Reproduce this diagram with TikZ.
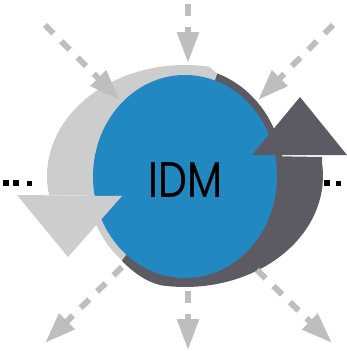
\documentclass[tikz,border=0pt]{standalone}
\usepackage{fontspec}
\usepackage{graphicx}
\newfontfamily\idmfont{Poppins}
\usetikzlibrary{arrows.meta}
\definecolor{idmblue}{HTML}{2188C1}
\definecolor{cyclelight}{HTML}{CDCDCD}
\definecolor{cycledark}{HTML}{5C5B64}
\definecolor{flowgrey}{HTML}{BEBEBE}
\begin{document}
\begin{tikzpicture}[x=1pt,y=-1pt,
  flow/.style={line width=6pt, draw=flowgrey, dash pattern=on 12pt off 11pt,
    -{Triangle[length=31pt,width=21pt,fill=flowgrey]}},
  dotmark/.style={fill=black}]
\useasboundingbox (0,0) rectangle (347,351);
\coordinate (c) at (185,176.5);
% thin ring hugging the core: light half and dark half
\fill[cyclelight] (c) -- ++(-71.1:99 and 109)
  arc[start angle=-71.1, end angle=-230.5, x radius=99, y radius=109] -- cycle;
\fill[cycledark] (c) -- ++(129.5:99 and 109)
  arc[start angle=129.5, end angle=-71.1, x radius=99, y radius=109] -- cycle;
% light crescent sweeping over the top and down the left side
\fill[cyclelight] (185,176) -- (217,73.3) -- (209,66.7)
  arc[start angle=-80, end angle=-189.9, x radius=138, y radius=111]
  -- (122,196) -- cycle;
% dark crescent sweeping along the bottom and up the right side
\fill[cycledark] (122,261) .. controls (135,274) and (147,282) .. (161.04,285.3)
  arc[start angle=100, end angle=-6.7, x radius=138, y radius=111]
  -- (322,157) -- (262,156) -- (185,176) -- cycle;
% core
\fill[idmblue] (c) ellipse[x radius=92, y radius=101.5];
% arrowheads of the cycle
\fill[cyclelight] (17,195) -- (68,257) -- (122,196) -- cycle;
\fill[cycledark] (252,155) -- (300,97) -- (347,155) -- cycle;
% label
\node[inner sep=0pt] (idm) at (185.5,179.5) {\resizebox{74pt}{35pt}{\idmfont IDM}};
% incoming flows
\coordinate (inT0) at (188,4);    \coordinate (inT1) at (188,63);
\coordinate (inL0) at (45,25);    \coordinate (inL1) at (120,100);
\coordinate (inR0) at (333,25);   \coordinate (inR1) at (258,100);
\draw[flow] (inT0) -- (inT1);
\draw[flow] (inL0) -- (inL1);
\draw[flow] (inR0) -- (inR1);
% outgoing flows
\coordinate (outB0) at (188,291);  \coordinate (outB1) at (188,350);
\coordinate (outL0) at (122,267);  \coordinate (outL1) at (45,343);
\coordinate (outR0) at (257,270);  \coordinate (outR1) at (332,343);
\draw[flow] (outB0) -- (outB1);
\draw[flow] (outL0) -- (outL1);
\draw[flow] (outR0) -- (outR1);
% ellipsis marks at the sides
\fill[dotmark] (3,180) rectangle ++(5.5,6);
\fill[dotmark] (13,180) rectangle ++(5.5,6);
\fill[dotmark] (26.5,180.5) rectangle ++(5,5);
\fill[dotmark] (324,180) rectangle ++(6,6);
\fill[dotmark] (336,180.5) rectangle ++(5,5);
\end{tikzpicture}
\end{document}
